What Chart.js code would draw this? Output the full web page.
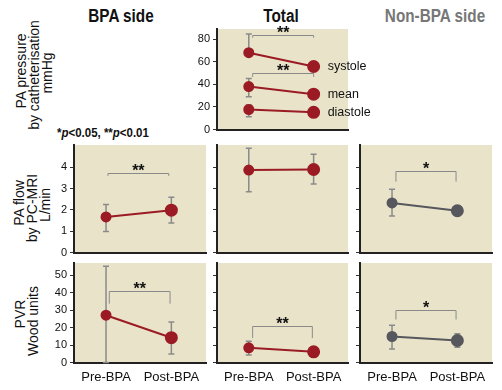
<!DOCTYPE html>
<html>
<head>
<meta charset="utf-8">
<script src="https://cdn.jsdelivr.net/npm/chart.js@4/dist/chart.umd.min.js"></script>
<style>
  body { margin: 0; background: #fff; }
  #wrap { position: relative; width: 502px; height: 390px; overflow: hidden; font-family: "Liberation Sans", Arial, sans-serif; }
  #wrap canvas { position: absolute; left: 0; top: 0; }
  .title { position: absolute; top: 16px; transform: translate(-50%, -50%) scaleX(0.85); font-weight: bold; font-size: 18px; white-space: nowrap; color: #111; }
  .ylab { position: absolute; transform: translate(-50%, -50%) rotate(-90deg); font-size: 14px; line-height: 14px; white-space: nowrap; color: #111; }
  .note { position: absolute; left: 57px; top: 125px; transform-origin: 0 0; transform: scaleX(0.85); font-weight: bold; font-size: 13.5px; white-space: nowrap; color: #111; }
</style>
</head>
<body>
<div id="wrap">
  <div class="title" style="left:121px">BPA side</div>
  <div class="title" style="left:281px">Total</div>
  <div class="title" style="left:435px;color:#777">Non-BPA side</div>

  <div class="ylab" style="left:21px;top:71px">PA pressure</div>
  <div class="ylab" style="left:34px;top:75px">by catheterisation</div>
  <div class="ylab" style="left:47px;top:73px">mmHg</div>

  <div class="ylab" style="left:19px;top:203px">PA flow</div>
  <div class="ylab" style="left:32px;top:208px">by PC-MRI</div>
  <div class="ylab" style="left:45px;top:205px">L/min</div>

  <div class="ylab" style="left:20px;top:314px">PVR</div>
  <div class="ylab" style="left:33px;top:321px">Wood units</div>

  <div class="note">*<i>p</i>&lt;0.05, **<i>p</i>&lt;0.01</div>
</div>
<script>
// categories and tick values
const groups = ['Pre-BPA', 'Post-BPA'];
const pressureTicks = [0, 20, 40, 60, 80];
const flowTicks = [0, 1, 2, 3, 4];
const pvrTicks = [0, 10, 20, 30, 40, 50];

// PA pressure, total (mmHg)
const systole = [68, 55.8];
const systoleLow = [68, 55.8];
const systoleHigh = [84.5, 55.8];
const meanPressure = [38, 31.3];
const meanLow = [29, 31.3];
const meanHigh = [45.2, 31.3];
const diastole = [17.7, 15.2];
const diastoleLow = [11.3, 15.2];
const diastoleHigh = [22, 15.2];

// PA flow (L/min)
const flowBpa = [1.67, 1.99];
const flowBpaLow = [0.99, 1.39];
const flowBpaHigh = [2.25, 2.6];
const flowTotal = [3.87, 3.9];
const flowTotalLow = [2.85, 3.22];
const flowTotalHigh = [4.9, 4.62];
const flowNon = [2.33, 1.96];
const flowNonLow = [1.72, 1.74];
const flowNonHigh = [2.97, 2.2];

// PVR (Wood units)
const pvrBpa = [27.1, 14.2];
const pvrBpaLow = [0, 4.8];
const pvrBpaHigh = [55.2, 23.2];
const pvrTotal = [8.4, 6.1];
const pvrTotalLow = [4.3, 6.1];
const pvrTotalHigh = [12.2, 6.1];
const pvrNon = [14.9, 12.6];
const pvrNonLow = [7.7, 8.8];
const pvrNonHigh = [21.3, 16.5];

// significance brackets: [level, drop-to level, from x, to x, stars]
const pressureBrackets = [[84, 81.3, 0.06, 1, '**'], [49.6, 46.6, 0.06, 1, '**']];
const flowBpaBrackets = [[3.73, 3.6, 0.03, 0.96, '**']];
const flowNonBrackets = [[3.83, 3.33, 0.06, 0.98, '*']];
const pvrBpaBrackets = [[40.8, 33.7, 0.05, 0.98, '**']];
const pvrTotalBrackets = [[21, 14, 0.06, 0.98, '**']];
const pvrNonBrackets = [[30.2, 24.6, 0.06, 0.98, '*']];

const RED = '#9b1b25';
const GREY = '#57575e';
const FONT = '"Liberation Sans", Arial, sans-serif';

const colX = [[74, 206], [217, 348], [360, 492]];
const rowY = [[29, 129.5], [145, 252.5], [263, 362.5]];

const panelPlugin = {
  id: 'panel',
  beforeDraw(chart) {
    const { ctx, chartArea: a } = chart;
    ctx.save();
    ctx.fillStyle = '#e9e4c9';
    ctx.fillRect(a.left, a.top, a.right - a.left, a.bottom - a.top);
    ctx.restore();
  },
  beforeDatasetsDraw(chart) {
    const { ctx, scales: { x, y } } = chart;
    const extra = chart.options.plugins.panel;
    ctx.save();
    ctx.strokeStyle = '#8a8a8a';
    ctx.lineWidth = 1.5;
    extra.errors.forEach(([lo, hi]) => {
      lo.forEach((l, i) => {
        const h = hi[i];
        if (l === h) return;
        const px = x.getPixelForValue(i);
        const y1 = y.getPixelForValue(l), y2 = y.getPixelForValue(h);
        ctx.beginPath();
        ctx.moveTo(px, y1); ctx.lineTo(px, y2);
        ctx.moveTo(px - 3, y1); ctx.lineTo(px + 3, y1);
        ctx.moveTo(px - 3, y2); ctx.lineTo(px + 3, y2);
        ctx.stroke();
      });
    });
    ctx.restore();
  },
  afterDatasetsDraw(chart) {
    const { ctx, scales: { x, y } } = chart;
    const extra = chart.options.plugins.panel;
    ctx.save();
    ctx.strokeStyle = '#8a8a8a';
    ctx.lineWidth = 1;
    (extra.brackets || []).forEach(([lvl, drop, x0, x1, stars]) => {
      const by = Math.round(y.getPixelForValue(lvl)) + 0.5;
      const dy = y.getPixelForValue(drop);
      const bx0 = x.getPixelForValue(x0), bx1 = x.getPixelForValue(x1);
      ctx.beginPath();
      ctx.moveTo(bx0, dy); ctx.lineTo(bx0, by); ctx.lineTo(bx1, by); ctx.lineTo(bx1, dy);
      ctx.stroke();
      ctx.fillStyle = '#111';
      ctx.font = 'bold 16px ' + FONT;
      ctx.textAlign = 'center';
      ctx.textBaseline = 'alphabetic';
      ctx.fillText(stars, (bx0 + bx1) / 2, by + 2);
    });
    (extra.labels || []).forEach(([text, value]) => {
      ctx.fillStyle = '#111';
      ctx.font = '12.5px ' + FONT;
      ctx.textAlign = 'left';
      ctx.textBaseline = 'middle';
      ctx.fillText(text, x.getPixelForValue(1) + 14, y.getPixelForValue(value));
    });
    ctx.restore();
  }
};

function panel(col, row, series, yMax, yTicks, extra) {
  const canvas = document.createElement('canvas');
  canvas.width = 502;
  canvas.height = 390;
  document.getElementById('wrap').appendChild(canvas);
  const [L, R] = colX[col];
  const [T, B] = rowY[row];
  const showX = row === 2;
  const xh = showX ? 27 : 1;
  new Chart(canvas, {
    type: 'line',
    data: {
      datasets: series.map(([values, color]) => ({
        data: values.map((v, i) => ({ x: i, y: v })),
        borderColor: color,
        backgroundColor: color,
        pointBackgroundColor: color,
        pointBorderColor: color,
        pointRadius: [4.5, 5.5],
        borderWidth: 2,
        tension: 0
      }))
    },
    options: {
      responsive: false,
      animation: false,
      events: [],
      layout: { padding: { left: L - 30, right: 502 - R, top: T, bottom: 390 - B - xh } },
      plugins: { legend: { display: false }, tooltip: { enabled: false }, panel: extra },
      scales: {
        x: {
          type: 'linear', min: -0.49, max: 1.53,
          afterFit: s => { s.height = xh; },
          afterBuildTicks: s => { s.ticks = [0, 1].map(v => ({ value: v })); },
          ticks: { display: showX, padding: 7, color: '#111', font: { family: FONT, size: 13 }, callback: v => groups[v] },
          grid: { display: false, drawTicks: false },
          border: { color: '#222', width: 2 }
        },
        y: {
          min: 0, max: yMax,
          afterFit: s => { s.width = 30; },
          afterBuildTicks: s => { s.ticks = yTicks.map(v => ({ value: v })); },
          ticks: { padding: 3, color: (col === 1 && row === 0) || col === 0 ? '#111' : 'rgba(0,0,0,0)', font: { family: FONT, size: 11 } },
          grid: { drawOnChartArea: false, tickLength: 4, color: '#333', lineWidth: 1 },
          border: { color: '#222', width: 2 }
        }
      }
    },
    plugins: [panelPlugin]
  });
}

panel(1, 0, [[systole, RED], [meanPressure, RED], [diastole, RED]], 89, pressureTicks, {
  errors: [[systoleLow, systoleHigh], [meanLow, meanHigh], [diastoleLow, diastoleHigh]],
  brackets: pressureBrackets,
  labels: [['systole', systole[1]], ['mean', meanPressure[1]], ['diastole', diastole[1]]]
});

panel(0, 1, [[flowBpa, RED]], 5.05, flowTicks, { errors: [[flowBpaLow, flowBpaHigh]], brackets: flowBpaBrackets });
panel(1, 1, [[flowTotal, RED]], 5.05, flowTicks, { errors: [[flowTotalLow, flowTotalHigh]] });
panel(2, 1, [[flowNon, GREY]], 5.05, flowTicks, { errors: [[flowNonLow, flowNonHigh]], brackets: flowNonBrackets });

panel(0, 2, [[pvrBpa, RED]], 57, pvrTicks, { errors: [[pvrBpaLow, pvrBpaHigh]], brackets: pvrBpaBrackets });
panel(1, 2, [[pvrTotal, RED]], 57, pvrTicks, { errors: [[pvrTotalLow, pvrTotalHigh]], brackets: pvrTotalBrackets });
panel(2, 2, [[pvrNon, GREY]], 57, pvrTicks, { errors: [[pvrNonLow, pvrNonHigh]], brackets: pvrNonBrackets });
</script>
</body>
</html>
